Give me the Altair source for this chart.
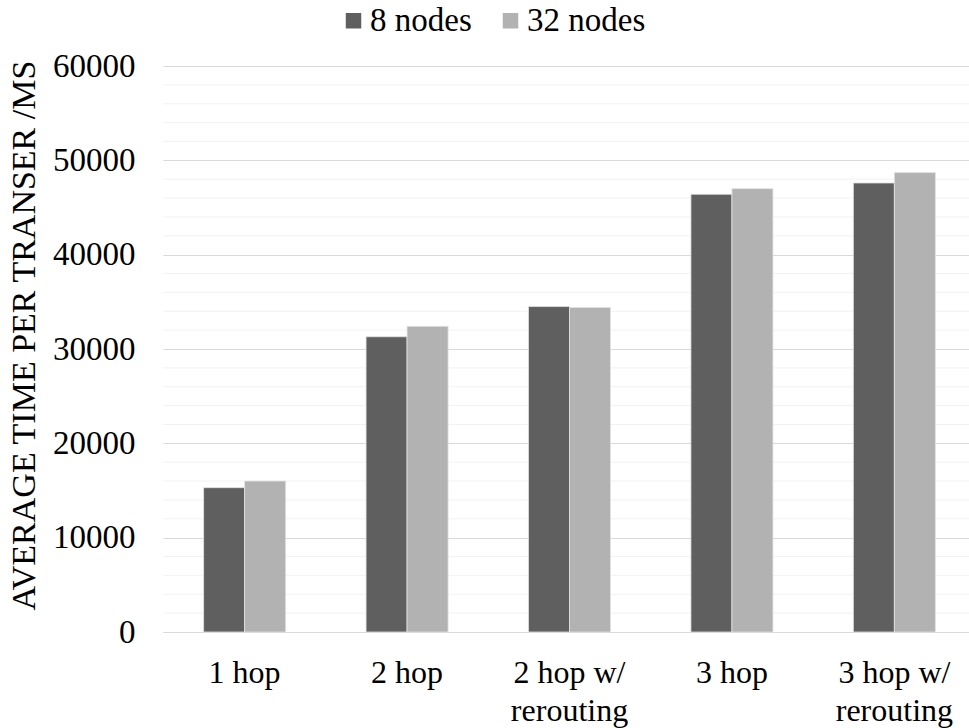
import altair as alt
import pandas as pd

# Categories (a "\n" splits a label over two lines)
categories = ["1 hop", "2 hop", "2 hop w/\nrerouting", "3 hop", "3 hop w/\nrerouting"]
series_names = ["8 nodes", "32 nodes"]
nodes_8 = [15300, 31300, 34500, 46400, 47600]
nodes_32 = [16000, 32400, 34400, 47000, 48700]
series_colors = ["#5f5f5f", "#b2b2b2"]

major_ticks = [0, 10000, 20000, 30000, 40000, 50000, 60000]
minor_ticks = [v for v in range(0, 60001, 2000) if v % 10000 != 0]

rows = []
for cat, a, b in zip(categories, nodes_8, nodes_32):
    rows.append({"category": cat, "series": series_names[0], "value": a})
    rows.append({"category": cat, "series": series_names[1], "value": b})
df = pd.DataFrame(rows)
minor_df = pd.DataFrame({"value": minor_ticks})

FONT = "Liberation Serif"
FS = 32

y_scale = alt.Scale(domain=[0, 60000], nice=False, zero=True)
y_axis = alt.Axis(
    values=major_ticks,
    title="AVERAGE TIME PER TRANSER /MS",
    titleFont=FONT,
    titleFontSize=34,
    titleFontWeight="normal",
    titleColor="#000000",
    titleAngle=-90,
    titleX=-139,
    titleY=269,
    titleAlign="center",
    titleBaseline="middle",
    labelFont=FONT,
    labelFontSize=33,
    labelColor="#000000",
    labelPadding=28,
    labelBaseline="middle",
    ticks=False,
    domain=False,
    grid=True,
    gridColor="#d9d9d9",
    gridWidth=1.2,
    format="d",
)

# light minor gridlines between the labelled ticks
minor_grid = alt.Chart(minor_df).mark_rule(color="#f2f2f2", strokeWidth=1).encode(
    y=alt.Y("value:Q", scale=y_scale, axis=y_axis),
    x=alt.value(0),
    x2=alt.value(806),
)

bars = alt.Chart(df).mark_bar(stroke="#e2e2e2", strokeWidth=0.8).encode(
    x=alt.X(
        "category:N",
        sort=categories,
        scale=alt.Scale(range=[0, 813], paddingInner=0.495, paddingOuter=0.25),
        axis=alt.Axis(
            title=None,
            labelAngle=0,
            labelExpr="split(datum.label, '\\n')",
            labelLineHeight=38,
            labelPadding=25,
            labelFontSize=FS,
            labelFont=FONT,
            labelColor="#000000",
            ticks=False,
            domainColor="#d9d9d9",
            domainWidth=1.2,
            grid=False,
        ),
    ),
    xOffset=alt.XOffset(
        "series:N",
        sort=series_names,
        scale=alt.Scale(paddingInner=0, paddingOuter=0),
    ),
    y=alt.Y("value:Q", scale=y_scale, axis=y_axis),
    color=alt.Color(
        "series:N",
        sort=series_names,
        scale=alt.Scale(domain=series_names, range=series_colors),
        legend=alt.Legend(
            title=None,
            orient="none",
            direction="horizontal",
            legendX=174,
            legendY=-62,
            padding=0,
            symbolType="square",
            symbolSize=240,
            symbolStrokeWidth=0,
            labelFont=FONT,
            labelFontSize=33,
            labelColor="#000000",
            labelOffset=0,
            columnPadding=22,
        ),
    ),
)

chart = (
    alt.layer(minor_grid, bars)
    .properties(
        width=806,
        height=566,
        autosize=alt.AutoSizeParams(type="none"),
        padding={"left": 163, "top": 66, "right": 0, "bottom": 96},
        background="#ffffff",
    )
    .configure(font=FONT)
    .configure_view(stroke=None)
    .configure_legend(labelFont=FONT, labelFontSize=33, labelColor="#000000")
    .configure_axis(labelFont=FONT, titleFont=FONT)
)

chart.save("out.html", embed_options={"renderer": "svg", "actions": False})
